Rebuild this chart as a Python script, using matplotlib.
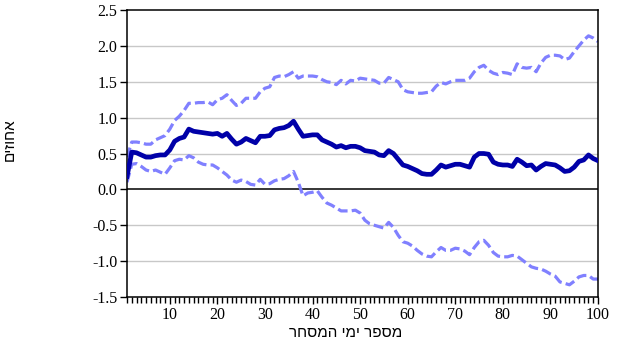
import numpy as np
import matplotlib
matplotlib.use('Agg')
import matplotlib.pyplot as plt
from matplotlib.ticker import MultipleLocator

# trading days
days = np.arange(1, 101)

# impulse response (middle line)
resp = [0.18, 0.52, 0.51, 0.48, 0.45, 0.45, 0.47, 0.48, 0.48, 0.55,
        0.67, 0.71, 0.73, 0.84, 0.81, 0.80, 0.79, 0.78, 0.77, 0.78,
        0.74, 0.78, 0.70, 0.63, 0.66, 0.71, 0.68, 0.65, 0.74, 0.74,
        0.75, 0.83, 0.85, 0.86, 0.89, 0.95, 0.84, 0.74, 0.75, 0.76,
        0.76, 0.69, 0.66, 0.63, 0.59, 0.61, 0.58, 0.60, 0.60, 0.58,
        0.54, 0.53, 0.52, 0.48, 0.47, 0.54, 0.50, 0.42, 0.34, 0.32,
        0.29, 0.26, 0.22, 0.21, 0.21, 0.27, 0.34, 0.31, 0.33, 0.35,
        0.35, 0.33, 0.31, 0.45, 0.50, 0.50, 0.49, 0.38, 0.35, 0.34,
        0.34, 0.32, 0.42, 0.38, 0.33, 0.34, 0.27, 0.32, 0.36, 0.35,
        0.34, 0.30, 0.25, 0.26, 0.31, 0.39, 0.41, 0.48, 0.43, 0.40]

# upper band
upper = [0.45, 0.66, 0.66, 0.65, 0.63, 0.63, 0.69, 0.72, 0.75, 0.84,
         0.96, 1.02, 1.10, 1.20, 1.20, 1.21, 1.21, 1.22, 1.18, 1.25,
         1.27, 1.32, 1.24, 1.17, 1.20, 1.27, 1.27, 1.27, 1.36, 1.41,
         1.43, 1.56, 1.58, 1.57, 1.60, 1.64, 1.55, 1.58, 1.58, 1.58,
         1.57, 1.53, 1.50, 1.49, 1.46, 1.52, 1.47, 1.52, 1.51, 1.55,
         1.54, 1.53, 1.52, 1.48, 1.48, 1.56, 1.53, 1.50, 1.39, 1.36,
         1.35, 1.34, 1.34, 1.35, 1.36, 1.44, 1.49, 1.47, 1.50, 1.52,
         1.52, 1.52, 1.55, 1.64, 1.70, 1.73, 1.66, 1.62, 1.60, 1.63,
         1.62, 1.60, 1.75, 1.70, 1.69, 1.70, 1.64, 1.76, 1.84, 1.87,
         1.87, 1.86, 1.81, 1.83, 1.92, 2.00, 2.08, 2.14, 2.11, 2.06]

# lower band
lower = [0.10, 0.35, 0.36, 0.32, 0.27, 0.25, 0.27, 0.24, 0.21, 0.30,
         0.40, 0.42, 0.41, 0.47, 0.44, 0.38, 0.35, 0.34, 0.34, 0.30,
         0.25, 0.20, 0.13, 0.10, 0.13, 0.11, 0.07, 0.06, 0.14, 0.07,
         0.08, 0.12, 0.14, 0.15, 0.19, 0.25, 0.10, -0.09, -0.05, -0.04,
         -0.02, -0.11, -0.19, -0.22, -0.26, -0.30, -0.30, -0.30, -0.29, -0.33,
         -0.43, -0.48, -0.50, -0.52, -0.54, -0.46, -0.53, -0.64, -0.73, -0.75,
         -0.79, -0.85, -0.90, -0.93, -0.94, -0.87, -0.81, -0.85, -0.85, -0.82,
         -0.83, -0.86, -0.91, -0.81, -0.73, -0.71, -0.78, -0.88, -0.93, -0.94,
         -0.94, -0.92, -0.93, -0.98, -1.03, -1.08, -1.10, -1.11, -1.14, -1.18,
         -1.21, -1.29, -1.31, -1.33, -1.28, -1.22, -1.20, -1.20, -1.25, -1.25]

y_label = 'אחוזים'
x_label = 'מספר ימי המסחר'

fig = plt.figure(figsize=(6.25, 3.58), dpi=100)
ax = fig.add_axes([0.2032, 0.1704, 0.7536, 0.8016])

ax.set_xlim(1, 100)
ax.set_ylim(-1.5, 2.5)

for v in np.arange(-1.0, 2.5, 0.5):
    if abs(v) < 1e-9:
        continue
    ax.axhline(v, color='#c8c8c8', lw=1.0, zorder=0)
ax.axhline(0, color='black', lw=1.1, zorder=1)

ax.plot(days, upper, color='#8080ff', lw=2.3, dashes=(3.1, 1.3), zorder=2)
ax.plot(days, lower, color='#8080ff', lw=2.3, dashes=(3.1, 1.3), zorder=2)
ax.plot(days, resp, color='#0000a8', lw=3.4, zorder=3)

ax.xaxis.set_major_locator(MultipleLocator(10))
ax.xaxis.set_minor_locator(MultipleLocator(1))
ax.yaxis.set_major_locator(MultipleLocator(0.5))
ax.yaxis.set_major_formatter(matplotlib.ticker.FormatStrFormatter('%.1f'))
ax.tick_params(axis='x', which='major', direction='out', length=5, width=1)
ax.tick_params(axis='x', which='minor', direction='out', length=4, width=1)
ax.tick_params(axis='y', direction='out', length=5, width=1)
ax.tick_params(labelsize=11.5, pad=2)
for lab in ax.get_xticklabels() + ax.get_yticklabels():
    lab.set_family('Liberation Serif')
for s in ax.spines.values():
    s.set_linewidth(1.1)

# matplotlib has no bidi support, so Hebrew is reversed for display
fig.text(10 / 625, 1 - 140 / 358, y_label[::-1], rotation=90, ha='center', va='center',
         fontsize=11, family='Liberation Sans')
fig.text(346 / 625, 1 - 333 / 358, x_label[::-1], ha='center', va='center',
         fontsize=11, family='Liberation Sans')

fig.savefig('out.png', dpi=100)
